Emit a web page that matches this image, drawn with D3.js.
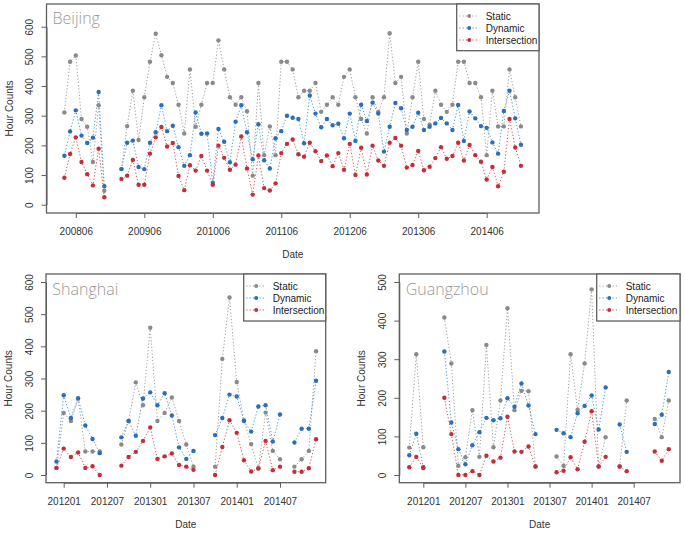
<!DOCTYPE html>
<html><head><meta charset="utf-8">
<script src="https://cdn.jsdelivr.net/npm/d3@7"></script>
<style>body{margin:0;background:#fff}</style></head>
<body>
<svg id="c" width="685" height="535"></svg>
<script>
// ---------- DATA ----------
const seriesNames = ["Static", "Dynamic", "Intersection"];

const bjMonths = ["200804","200805","200806","200807","200808","200809","200810","200811","200812",
"200901","200902","200903","200904","200905","200906","200907","200908","200909","200910","200911","200912",
"201001","201002","201003","201004","201005","201006","201007","201008","201009","201010","201011","201012",
"201101","201102","201103","201104","201105","201106","201107","201108","201109","201110","201111","201112",
"201201","201202","201203","201204","201205","201206","201207","201208","201209","201210","201211","201212",
"201301","201302","201303","201304","201305","201306","201307","201308","201309","201310","201311","201312",
"201401","201402","201403","201404","201405","201406","201407","201408","201409","201410","201411","201412"];
const bjStatic = [311,482,503,289,263,144,335,47,null,
null,120,265,384,218,362,482,576,504,431,410,337,
240,456,263,337,410,410,554,456,362,337,362,315,
98,410,167,264,167,482,482,456,362,384,384,410,
313,337,362,337,431,456,362,289,240,362,313,362,
578,410,431,240,362,482,289,270,384,337,313,337,
482,482,410,410,362,167,384,264,264,456,362,264];
const bjDynamic = [165,247,318,233,208,226,380,62,null,
null,120,209,216,127,120,209,244,335,248,266,194,
131,167,311,239,240,74,255,212,143,280,335,244,
153,271,150,122,224,248,300,293,289,207,368,307,
261,289,268,273,224,307,215,337,282,344,307,179,
263,343,325,252,263,310,252,263,274,292,274,252,
336,215,314,291,265,259,210,172,316,384,291,202];
const bjIntersection = [91,171,227,144,103,65,189,25,null,
null,87,98,151,67,67,172,227,262,196,208,97,
49,133,115,164,115,67,199,158,118,135,230,122,
34,166,56,48,72,174,205,220,170,162,209,180,
147,166,130,174,118,205,100,192,102,199,149,131,
209,225,199,125,134,181,116,128,157,194,155,164,
209,149,201,167,145,85,127,62,111,289,193,131];
const bjTicks = ["200806","200906","201006","201106","201206","201306","201406"];
const bjYTicks = [0,100,200,300,400,500,600];

const shMonths = ["201112",
"201201","201202","201203","201204","201205","201206","201207","201208","201209","201210","201211","201212",
"201301","201302","201303","201304","201305","201306","201307","201308","201309","201310","201311","201312",
"201401","201402","201403","201404","201405","201406","201407","201408","201409","201410","201411","201412"];
const shStatic = [22,
193,168,237,73,73,73,null,null,95,168,288,217,
458,168,193,241,168,95,26,null,null,26,361,552,
289,170,96,21,194,75,49,null,26,49,75,385];
const shDynamic = [42,
248,177,239,154,112,68,null,null,117,168,122,238,
257,217,254,185,86,50,75,null,null,124,177,250,
244,168,135,213,217,104,188,null,101,144,144,293];
const shIntersection = [22,
82,56,70,22,27,0,null,null,29,56,72,106,
148,50,58,67,31,26,16,null,null,0,87,170,
131,46,11,20,106,15,26,null,10,10,21,111];
const shTicks = ["201201","201207","201301","201307","201401","201407"];
const shYTicks = [0,100,200,300,400,500,600];

const gzMonths = ["201111","201112",
"201201","201202","201203","201204","201205","201206","201207","201208","201209","201210","201211","201212",
"201301","201302","201303","201304","201305","201306","201307","201308","201309","201310","201311","201312",
"201401","201402","201403","201404","201405","201406","201407","201408","201409","201410","201411","201412"];
const gzStatic = [71,313,
72,null,null,408,289,24,46,168,47,337,72,193,
432,168,218,217,22,null,null,48,24,313,169,289,
481,22,98,null,22,193,null,null,null,145,98,193];
const gzDynamic = [51,107,
20,null,null,320,136,67,28,77,111,148,142,147,
199,177,237,180,106,null,null,117,108,98,160,179,
206,118,227,null,131,60,null,null,null,132,156,267];
const gzIntersection = [20,47,
18,null,null,200,106,0,0,10,0,50,35,45,
151,61,60,74,22,null,null,7,11,46,15,86,
165,22,47,null,22,10,null,null,null,61,37,67];
const gzTicks = ["201201","201207","201301","201307","201401","201407"];
const gzYTicks = [0,100,200,300,400,500];

// ---------- STYLE ----------
const pointColors = ["#8a8a8a", "#2a6fb7", "#c22f3b"];
const lineColors  = ["#a3a3a3", "#5a9bd6", "#d45d66"];
const frameColor = "#5f5f5f";
const textFont = "'Liberation Sans', Arial, sans-serif";

const svg = d3.select("#c");

function mIdx(s){ return (+s.slice(0,4))*12 + (+s.slice(4)) - 1; }

function panel(cfg){
  const g = svg.append("g");
  const b = cfg.box;
  const x = d3.scaleLinear()
    .domain([mIdx(cfg.xTicks[0]), mIdx(cfg.xTicks[cfg.xTicks.length-1])])
    .range(cfg.xPx);
  const y = d3.scaleLinear()
    .domain([0, cfg.yTicks[cfg.yTicks.length-1]])
    .range(cfg.yPx);

  g.append("rect").attr("x", b.l).attr("y", b.t)
    .attr("width", b.r-b.l).attr("height", b.b-b.t)
    .attr("fill","none").attr("stroke",frameColor).attr("stroke-width",1.3);

  const ya = g.append("g").attr("transform",`translate(${b.l},0)`)
    .call(d3.axisLeft(y).tickValues(cfg.yTicks).tickSize(5).tickSizeOuter(0).tickFormat(d3.format("d")));
  ya.selectAll("path,line").attr("stroke",frameColor);
  ya.selectAll("text")
    .attr("transform","rotate(-90)")
    .attr("x",0).attr("y",-13.5).attr("dy",0)
    .attr("text-anchor","middle")
    .attr("fill","#333").style("font-family",textFont).style("font-size","10px");

  const xa = g.append("g").attr("transform",`translate(0,${b.b})`)
    .call(d3.axisBottom(x).tickValues(cfg.xTicks.map(mIdx)).tickSize(5).tickSizeOuter(0)
      .tickFormat((d,i)=>cfg.xTicks[i]));
  xa.selectAll("path,line").attr("stroke",frameColor);
  xa.selectAll("text").attr("y",22).attr("dy",0)
    .attr("fill","#333").style("font-family",textFont).style("font-size","10px");

  g.append("text").attr("transform",`translate(${b.l-34},${(b.t+b.b)/2}) rotate(-90)`)
    .attr("text-anchor","middle").attr("fill","#333")
    .style("font-family",textFont).style("font-size","10px").text("Hour Counts");
  g.append("text").attr("x",(b.l+b.r)/2).attr("y",b.b+45)
    .attr("text-anchor","middle").attr("fill","#333")
    .style("font-family",textFont).style("font-size","10px").text("Date");

  cfg.series.forEach((vals,si)=>{
    const pts = cfg.months.map((m,i)=>({m, v: vals[i]}));
    const line = d3.line().defined(d=>d.v!=null).x(d=>x(mIdx(d.m))).y(d=>y(d.v));
    g.append("path").datum(pts).attr("d",line)
      .attr("fill","none").attr("stroke",lineColors[si]).attr("stroke-width",1)
      .attr("stroke-dasharray","1.3,2");
    g.selectAll(null).data(pts.filter(d=>d.v!=null)).enter().append("circle")
      .attr("cx",d=>x(mIdx(d.m))).attr("cy",d=>y(d.v)).attr("r",2.2)
      .attr("fill",pointColors[si]);
  });

  g.append("text").attr("x",cfg.titlePos[0]).attr("y",cfg.titlePos[1])
    .attr("fill","#999").style("font-family","'Open Sans', sans-serif")
    .style("font-weight",300)
    .style("font-size","16px").text(cfg.title);

  const L = cfg.legend;
  const lg = g.append("g");
  lg.append("rect").attr("x",L.l).attr("y",b.t).attr("width",b.r-L.l).attr("height",L.h)
    .attr("fill","#fff").attr("stroke",frameColor).attr("stroke-width",1.3);
  seriesNames.forEach((nm,i)=>{
    const yy = b.t + 12 + i*12;
    lg.append("line").attr("x1",L.l+2.5).attr("x2",L.l+22.5).attr("y1",yy).attr("y2",yy)
      .attr("stroke",lineColors[i]).attr("stroke-width",1).attr("stroke-dasharray","1.3,2");
    lg.append("circle").attr("cx",L.l+12.5).attr("cy",yy).attr("r",2).attr("fill",pointColors[i]);
    lg.append("text").attr("x",L.l+29).attr("y",yy).attr("dy","0.35em")
      .attr("fill","#222").style("font-family",textFont).style("font-size","10px").text(nm);
  });
}

panel({
  title:"Beijing", titlePos:[52.5,23.5],
  box:{l:46.5, r:539, t:4, b:213},
  months:bjMonths, series:[bjStatic,bjDynamic,bjIntersection],
  xTicks:bjTicks, xPx:[75.8,486.7],
  yTicks:bjYTicks, yPx:[204.7,26.7],
  legend:{l:456.7, h:46.7}
});
panel({
  title:"Shanghai", titlePos:[52.3,295],
  box:{l:46, r:325.7, t:274, b:482.7},
  months:shMonths, series:[shStatic,shDynamic,shIntersection],
  xTicks:shTicks, xPx:[63.7,280],
  yTicks:shYTicks, yPx:[475,282],
  legend:{l:243.7, h:47}
});
panel({
  title:"Guangzhou", titlePos:[405.7,295],
  box:{l:399.3, r:680, t:274, b:482.7},
  months:gzMonths, series:[gzStatic,gzDynamic,gzIntersection],
  xTicks:gzTicks, xPx:[423.3,633.7],
  yTicks:gzYTicks, yPx:[475,282],
  legend:{l:596.7, h:47}
});
</script>
</body></html>
